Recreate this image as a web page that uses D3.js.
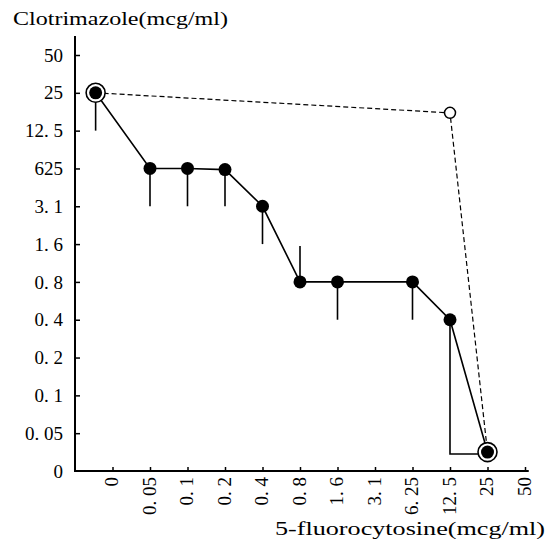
<!DOCTYPE html>
<html>
<head>
<meta charset="utf-8">
<script src="https://cdn.jsdelivr.net/npm/d3@7"></script>
<style>
  body { margin: 0; background: #fff; }
  svg text { font-family: "Liberation Serif", "DejaVu Serif", serif; fill: #000; }
</style>
</head>
<body>
<div id="chart"></div>
<script>
// tick labels (dilution steps)
const xLabels = ["0", "0. 05", "0. 1", "0. 2", "0. 4", "0. 8", "1. 6", "3. 1", "6. 25", "12. 5", "25", "50"];
const yLabels = ["0", "0. 05", "0. 1", "0. 2", "0. 4", "0. 8", "1. 6", "3. 1", "625", "12. 5", "25", "50"];

// combination curve, in tick-step units
const solidX = [-0.45, 1, 2, 3, 4, 5, 6, 8, 9, 10];
const solidY = [10, 8, 8, 7.97, 7, 5, 5, 5, 4, 0.5];
// end of the vertical bar hanging from each point (null = none)
const barEndY = [9, 7, 7, 7, 6, 5.95, 4, 4, 0.45, null];

// single-drug line (dashed)
const dashX = [-0.45, 9, 10];
const dashY = [10, 9.47, 0.5];

// points drawn with an extra ring
const ringed = [0, 9];

const width = 548, height = 552;

const svg = d3.select("#chart").append("svg")
    .attr("width", width)
    .attr("height", height);

const x = d3.scaleLinear().domain([-1, 11]).range([75, 525]);
const y = d3.scaleLinear().domain([0, 11]).range([471, 55]);

// axes
const yAxis = d3.axisLeft(y)
    .tickValues(d3.range(yLabels.length))
    .tickFormat(i => yLabels[i])
    .tickSizeInner(-5)
    .tickSizeOuter(0)
    .tickPadding(12);

const gy = svg.append("g")
    .attr("transform", `translate(${x(-1)},0)`)
    .call(yAxis);
gy.select(".domain").remove();
gy.selectAll(".tick line").attr("stroke", "#000").attr("stroke-width", 1.5);
gy.selectAll(".tick text").style("font-size", "19px");
gy.selectAll(".tick").filter(d => d === 0).select("line").remove();

const xAxis = d3.axisBottom(x)
    .tickValues(d3.range(xLabels.length))
    .tickFormat(i => xLabels[i])
    .tickSizeInner(-4)
    .tickSizeOuter(0)
    .tickPadding(0);

const gx = svg.append("g")
    .attr("transform", `translate(0,${y(0)})`)
    .call(xAxis);
gx.select(".domain").remove();
gx.selectAll(".tick line").attr("stroke", "#000").attr("stroke-width", 1.5);
gx.selectAll(".tick text")
    .style("font-size", "19px")
    .attr("text-anchor", "end")
    .attr("transform", "translate(-1,6) rotate(-90)")
    .attr("x", 0)
    .attr("y", 0)
    .attr("dy", "0.32em");

// axis lines
svg.append("line")
    .attr("x1", x(-1)).attr("x2", x(-1))
    .attr("y1", y(0) + 1).attr("y2", y(11.5))
    .attr("stroke", "#000").attr("stroke-width", 2);
svg.append("line")
    .attr("x1", x(-1)).attr("x2", x(11.1))
    .attr("y1", y(0)).attr("y2", y(0))
    .attr("stroke", "#000").attr("stroke-width", 2);

// axis titles
svg.append("text")
    .attr("x", 13).attr("y", 25)
    .attr("textLength", 215)
    .attr("lengthAdjust", "spacingAndGlyphs")
    .style("font-size", "19px")
    .text("Clotrimazole(mcg/ml)");

svg.append("text")
    .attr("x", 275).attr("y", 535)
    .attr("textLength", 270)
    .attr("lengthAdjust", "spacingAndGlyphs")
    .style("font-size", "19px")
    .text("5-fluorocytosine(mcg/ml)");

// dashed line and open point
const dashPts = dashX.map((v, i) => [x(v), y(dashY[i])]);
svg.append("path")
    .attr("d", d3.line()(dashPts))
    .attr("fill", "none")
    .attr("stroke", "#000")
    .attr("stroke-width", 1.2)
    .attr("stroke-dasharray", "5,3");

svg.append("circle")
    .attr("cx", x(dashX[1])).attr("cy", y(dashY[1]))
    .attr("r", 5.5)
    .attr("fill", "#fff")
    .attr("stroke", "#000")
    .attr("stroke-width", 1.5);

// vertical bars
solidX.forEach((v, i) => {
    if (barEndY[i] === null) return;
    const pts = [[x(v), y(solidY[i])], [x(v), y(barEndY[i])]];
    if (i === 8) pts.push([x(solidX[9]), y(barEndY[i])]);
    svg.append("path")
        .attr("d", d3.line()(pts))
        .attr("fill", "none")
        .attr("stroke", "#000")
        .attr("stroke-width", 1.6);
});

// solid curve
const solidPts = solidX.map((v, i) => [x(v), y(solidY[i])]);
svg.append("path")
    .attr("d", d3.line()(solidPts))
    .attr("fill", "none")
    .attr("stroke", "#000")
    .attr("stroke-width", 1.6);

// rings
ringed.forEach(i => {
    svg.append("circle")
        .attr("cx", x(solidX[i])).attr("cy", y(solidY[i]))
        .attr("r", 9.5)
        .attr("fill", "#fff")
        .attr("stroke", "#000")
        .attr("stroke-width", 1.6);
});

// filled points
svg.selectAll(".dot")
    .data(solidX)
    .enter()
    .append("circle")
    .attr("class", "dot")
    .attr("cx", d => x(d))
    .attr("cy", (d, i) => y(solidY[i]))
    .attr("r", 6.5)
    .attr("fill", "#000");
</script>
</body>
</html>
